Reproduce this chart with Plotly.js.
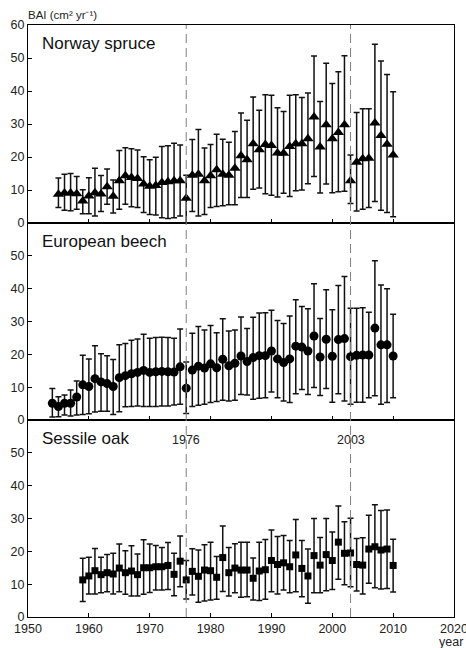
<!DOCTYPE html>
<html>
<head>
<meta charset="utf-8">
<script src="https://cdn.plot.ly/plotly-3.0.1.min.js"></script>
<style>html,body{margin:0;padding:0;background:#fff;}#chart{width:466px;height:648px;}</style>
</head>
<body>
<div id="chart"></div>
<script>
// ---- Norway spruce (1955-2010) ----
var spruceYears = [1955,1956,1957,1958,1959,1960,1961,1962,1963,1964,1965,1966,1967,1968,1969,1970,1971,1972,1973,1974,1975,1976,1977,1978,1979,1980,1981,1982,1983,1984,1985,1986,1987,1988,1989,1990,1991,1992,1993,1994,1995,1996,1997,1998,1999,2000,2001,2002,2003,2004,2005,2006,2007,2008,2009,2010];
var spruceMean  = [8.7,9.1,9.1,8.9,6.7,8.2,9.2,8.8,11.0,8.1,12.8,14.3,13.8,13.5,11.8,11.1,11.4,12.3,12.5,12.8,12.8,7.5,14.5,14.8,12.8,14.3,16.1,14.8,14.5,16.6,20.4,19.2,24.0,22.2,23.8,23.5,21.2,21.1,23.2,24.0,24.0,25.5,32.1,23.0,29.8,25.5,27.4,29.8,12.8,18.4,19.5,19.6,30.3,26.5,23.9,20.6];
var spruceUpper = [13.6,14.8,15.0,14.1,10.1,13.7,16.6,14.4,16.4,13.0,22.0,22.8,22.5,22.1,20.1,19.2,19.9,23.2,23.4,24.2,23.6,14.5,25.3,28.3,22.7,23.8,26.9,25.4,24.5,27.7,33.3,31.1,38.2,34.2,38.9,38.7,34.9,33.8,38.7,38.9,38.0,39.4,50.6,36.8,48.4,42.3,45.8,50.7,20.6,33.5,34.6,34.6,54.2,49.1,45.0,39.8];
var spruceLower = [4.7,3.9,3.7,4.2,2.8,2.8,2.1,3.5,5.7,3.0,4.2,5.7,4.9,4.7,3.2,2.6,2.4,1.6,1.4,1.6,2.1,0.1,3.5,2.1,2.6,4.7,5.0,5.2,5.5,5.5,7.7,7.7,10.2,10.6,8.9,8.4,7.9,9.0,8.0,9.8,10.0,11.9,14.1,9.1,11.8,9.2,9.5,9.6,5.9,3.6,4.2,4.7,6.5,3.9,3.2,1.9];

// ---- European beech (1954-2010) ----
var beechYears = [1954,1955,1956,1957,1958,1959,1960,1961,1962,1963,1964,1965,1966,1967,1968,1969,1970,1971,1972,1973,1974,1975,1976,1977,1978,1979,1980,1981,1982,1983,1984,1985,1986,1987,1988,1989,1990,1991,1992,1993,1994,1995,1996,1997,1998,1999,2000,2001,2002,2003,2004,2005,2006,2007,2008,2009,2010];
var beechMean  = [5.1,4.1,5.1,5.1,7.0,10.7,10.2,12.6,11.6,11.1,10.2,12.9,13.5,14.1,14.5,15.1,14.5,14.7,14.8,14.7,14.6,16.2,9.7,15.2,16.4,15.8,17.1,15.9,18.5,16.5,17.3,19.5,17.8,19.0,19.6,19.6,21.0,18.6,17.5,18.6,22.5,22.2,21.0,25.6,19.2,24.6,19.4,24.5,24.8,19.3,19.7,19.8,19.8,28.0,22.9,22.9,19.5];
var beechUpper = [9.6,7.1,7.6,9.1,11.9,19.7,18.6,22.6,20.2,19.6,18.4,22.9,23.3,24.3,24.7,26.1,24.9,25.1,25.2,25.1,24.9,27.7,17.7,26.4,28.5,27.4,28.8,26.6,30.8,27.1,27.4,31.4,27.9,31.3,32.6,32.7,33.4,30.3,29.4,31.7,36.6,34.6,33.9,41.5,30.9,39.7,33.6,41.0,43.7,34.0,34.0,34.2,32.8,48.5,41.1,40.0,32.2];
var beechLower = [0.9,1.0,1.5,1.2,1.5,1.7,1.9,2.4,2.7,2.7,1.7,2.5,4.0,4.1,4.3,4.1,4.1,4.1,4.3,4.3,4.6,4.8,2.0,4.1,4.5,4.8,5.3,5.6,6.0,5.8,6.0,7.8,7.6,6.3,6.6,6.8,8.5,6.8,5.8,5.3,8.0,9.3,7.8,9.9,7.5,9.6,5.4,8.0,5.8,4.8,5.4,5.4,6.8,7.4,4.8,5.3,6.8];

// ---- Sessile oak (1959-2010) ----
var oakYears = [1959,1960,1961,1962,1963,1964,1965,1966,1967,1968,1969,1970,1971,1972,1973,1974,1975,1976,1977,1978,1979,1980,1981,1982,1983,1984,1985,1986,1987,1988,1989,1990,1991,1992,1993,1994,1995,1996,1997,1998,1999,2000,2001,2002,2003,2004,2005,2006,2007,2008,2009,2010];
var oakMean  = [11.3,12.5,14.1,12.9,13.5,13.1,14.9,13.5,14.0,12.9,15.0,15.0,15.3,15.3,15.7,13.0,17.0,11.3,13.9,12.4,14.3,14.1,12.1,18.1,13.5,14.9,14.3,14.3,11.8,14.0,14.4,17.2,16.0,16.5,15.3,18.9,14.8,12.5,18.7,15.8,19.0,17.2,22.8,19.4,19.5,16.0,15.8,20.7,21.4,20.4,20.7,15.7];
var oakUpper = [17.9,18.2,20.9,18.2,19.0,19.4,22.2,20.2,21.7,19.2,23.5,22.2,21.8,21.2,22.7,19.4,24.7,17.2,20.8,20.4,22.0,22.8,18.4,27.7,21.2,22.3,22.8,22.8,18.0,22.8,23.6,26.5,24.5,24.8,23.3,29.7,23.3,20.7,30.0,24.2,30.0,25.9,33.8,29.0,30.1,23.9,24.1,31.0,34.2,32.4,32.6,23.7];
var oakLower = [4.7,7.0,7.0,7.4,7.7,7.0,7.7,6.9,6.4,6.4,6.9,7.5,8.2,8.2,8.4,6.5,9.2,5.5,6.7,4.5,4.9,5.2,5.4,7.8,6.4,7.4,6.0,6.2,5.2,5.0,5.4,7.7,7.0,8.2,7.4,7.7,6.2,4.2,7.4,7.4,8.0,8.4,11.5,9.8,9.2,7.9,7.0,10.3,8.9,8.5,8.7,7.6];

var panelNames = ["Norway spruce", "European beech", "Sessile oak"];
var eventYears = [1976, 2003];
var xTicks = [1950,1960,1970,1980,1990,2000,2010,2020];

function errTrace(years, mean, upper, lower, symbol, size, xa, ya) {
  var plus = upper.map(function(u, i){ return u - mean[i]; });
  var minus = lower.map(function(l, i){ return mean[i] - l; });
  return {
    type: 'scatter', mode: 'markers', x: years, y: mean, xaxis: xa, yaxis: ya,
    marker: {symbol: symbol, size: size, color: '#000'},
    error_y: {type: 'data', symmetric: false, array: plus, arrayminus: minus,
              color: '#111', thickness: 1.5, width: 3},
    showlegend: false, hoverinfo: 'x+y'
  };
}

var data = [
  errTrace(spruceYears, spruceMean, spruceUpper, spruceLower, 'triangle-up', 10, 'x', 'y'),
  errTrace(beechYears, beechMean, beechUpper, beechLower, 'circle', 9, 'x2', 'y2'),
  errTrace(oakYears, oakMean, oakUpper, oakLower, 'square', 7, 'x3', 'y3')
];

var tickFont = {family: 'Liberation Sans, Arial, sans-serif', size: 12.5, color: '#222'};
var h = 197/592;
function xax(anchor, showLabels) {
  return {anchor: anchor, range: [1950, 2020], tickvals: xTicks, showticklabels: showLabels,
          ticks: 'inside', ticklen: 4, tickcolor: '#000', showline: true, linecolor: '#000',
          linewidth: 1, mirror: true, showgrid: false, zeroline: false, tickfont: tickFont,
          ticklabeloverflow: 'allow'};
}
function yax(anchor, dom, vals) {
  return {anchor: anchor, domain: dom, range: [0, 60], tickvals: vals,
          ticks: 'inside', ticklen: 4, tickcolor: '#000', showline: true, linecolor: '#000',
          linewidth: 1, mirror: true, showgrid: false, zeroline: false, tickfont: tickFont,
          ticklabeloverflow: 'allow'};
}

var shapes = [];
eventYears.forEach(function(yr){
  shapes.push({type: 'line', xref: 'x', yref: 'paper', x0: yr, x1: yr, y0: 0, y1: 1,
               line: {color: '#808080', width: 1, dash: '9px,5px'}});
});

var labelFont = {family: 'Liberation Sans, Arial, sans-serif', size: 17, color: '#111'};
var panelTops = [1, 2*h, h];
var annotations = panelNames.map(function(n, i){
  return {text: n, xref: 'paper', yref: 'paper', x: 0.027, y: panelTops[i], xanchor: 'left',
          yanchor: 'top', yshift: -7, showarrow: false, font: labelFont};
});
eventYears.forEach(function(yr){
  annotations.push({text: String(yr), xref: 'x3', yref: 'paper', x: yr, y: h, yanchor: 'middle',
                    yshift: -20, showarrow: false, font: tickFont});
});
annotations.push({text: 'BAI (cm\u00b2 yr\u207b\u00b9)', xref: 'x', yref: 'paper', x: 1950,
                  y: 1, xanchor: 'left', yanchor: 'middle', align: 'left', xshift: -2, yshift: 10,
                  showarrow: false,
                  font: {family: 'Liberation Sans, Arial, sans-serif', size: 11.5, color: '#222'}});
annotations.push({text: 'year', xref: 'x3', yref: 'paper', x: 2019.5, y: 0, yanchor: 'middle',
                  yshift: -25, showarrow: false, font: tickFont});

var layout = {
  width: 466, height: 648,
  margin: {l: 28, r: 12, t: 25, b: 31},
  paper_bgcolor: '#fff', plot_bgcolor: '#fff',
  xaxis: xax('y', false), xaxis2: xax('y2', false), xaxis3: xax('y3', true),
  yaxis: yax('x', [2*h, 1], [0,10,20,30,40,50,60]),
  yaxis2: yax('x2', [h, 2*h], [0,10,20,30,40,50]),
  yaxis3: yax('x3', [0, h], [0,10,20,30,40,50]),
  shapes: shapes, annotations: annotations, showlegend: false
};

Plotly.newPlot('chart', data, layout, {displayModeBar: false, staticPlot: true});
</script>
</body>
</html>
